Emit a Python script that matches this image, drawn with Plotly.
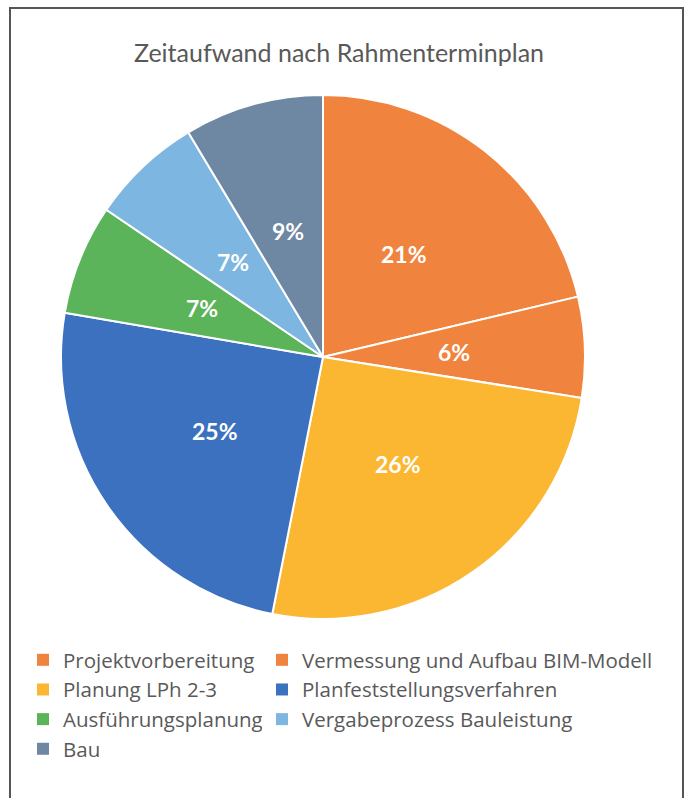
import math
import plotly.graph_objects as go

labels = ["Projektvorbereitung", "Vermessung und Aufbau BIM-Modell", "Planung LPh 2-3",
          "Planfeststellungsverfahren", "Ausführungsplanung", "Vergabeprozess Bauleistung", "Bau"]
values = [21.3, 6.2, 25.6, 24.6, 6.8, 6.9, 8.6]
colors = ["#F0843F", "#F0843F", "#FBB731", "#3B71BF", "#5BB35A", "#7DB6E1", "#6E87A2"]
title_text = "Zeitaufwand nach Rahmenterminplan"

W, H = 687, 798
ml, mr, mt, mb = 61, 102, 95, 179
pw, ph = W - ml - mr, H - mt - mb


def px_x(x):
    return (x - ml) / pw


def px_y(y):
    return (H - mb - y) / ph


fig = go.Figure()

# legend carriers (tiny pies hidden under the main pie) -> two legend columns
for k, leg in [(0, "legend"), (1, "legend2")]:
    fig.add_trace(go.Pie(
        labels=labels[k::2], values=values[k::2], sort=False, direction="clockwise",
        marker=dict(colors=colors[k::2], line=dict(width=0)),
        textinfo="none", hoverinfo="skip", legend=leg, showlegend=True,
        domain=dict(x=[0.499, 0.501], y=[0.499, 0.501]),
    ))

fig.add_trace(go.Pie(
    labels=labels, values=values, sort=False, direction="clockwise", rotation=0,
    marker=dict(colors=colors, line=dict(color="white", width=2)),
    textinfo="none", showlegend=False, hoverinfo="label+percent",
    domain=dict(x=[0, 1], y=[0, 1]),
))

# percentage labels at half radius on each slice's mid-angle
total = sum(values)
cum = 0.0
annotations = []
for v in values:
    mid = (cum + v / 2) / total * 2 * math.pi
    cum += v
    annotations.append(dict(
        x=0.5 + 0.25 * math.sin(mid), y=0.5 + 0.25 * math.cos(mid),
        xref="paper", yref="paper", xanchor="center", yanchor="middle", showarrow=False,
        text=f"{round(v / total * 100)}%",
        font=dict(family="Lato", size=23, color="white", weight="bold"),
    ))

legend_font = dict(family="Open Sans", size=20.5, color="#595959")
fig.update_layout(
    width=W, height=H,
    margin=dict(l=ml, r=mr, t=mt, b=mb),
    paper_bgcolor="white", plot_bgcolor="white",
    title=dict(text=title_text, x=339 / W, xanchor="center", y=1 - 53 / H, yanchor="middle",
               font=dict(family="Lato", size=25, color="#595959")),
    legend=dict(orientation="v", x=px_x(23), xanchor="left", y=px_y(640), yanchor="top",
                itemwidth=30, font=legend_font, traceorder="normal", tracegroupgap=0),
    legend2=dict(orientation="v", x=px_x(262), xanchor="left", y=px_y(640), yanchor="top",
                 itemwidth=30, font=legend_font, traceorder="normal", tracegroupgap=0),
    annotations=annotations,
    shapes=[dict(type="rect", xref="paper", yref="paper",
                 x0=px_x(10), x1=px_x(683), y0=px_y(805), y1=px_y(8),
                 line=dict(color="#555555", width=2))],
)

fig.write_html("out.html")
